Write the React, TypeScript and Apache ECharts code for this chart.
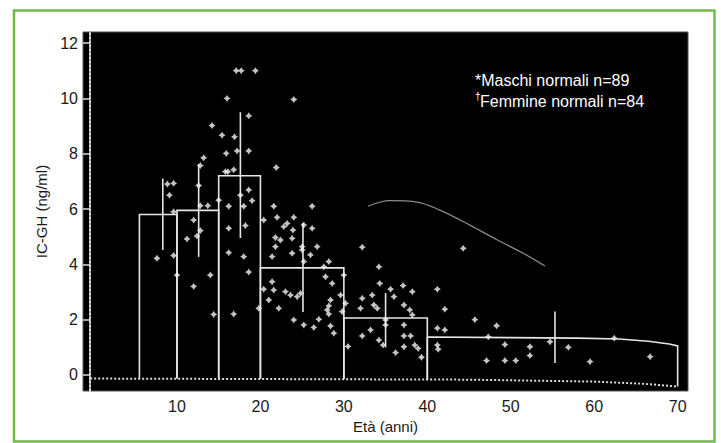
import React, { useEffect, useRef } from "react";
import * as echarts from "echarts";

// ---- data ----
const xTickValues = [10, 20, 30, 40, 50, 60, 70];
const yTickValues = [0, 2, 4, 6, 8, 10, 12];

// histogram bins (edges and mean heights)
const binEdges = [5.5, 10, 15, 20, 30, 40, 70];
const binHeights = [5.8, 5.95, 7.2, 3.87, 2.06, 1.37];
const binBase = [-0.12, -0.13, -0.13, -0.14, -0.15, -0.16, -0.42];
const lastBinTop = [
  [40, 1.37],
  [50, 1.35],
  [58, 1.33],
  [63, 1.3],
  [66.5, 1.22],
  [69, 1.12],
  [70, 1.05],
];

// error bars [x, low, high]
const errorBars = [
  [8.3, 4.52, 7.1],
  [12.6, 4.27, 7.63],
  [17.6, 4.95, 9.5],
  [25.1, 2.28, 5.49],
  [35.0, 1.0, 2.96],
  [55.3, 0.43, 2.29],
];

// faint reference curve
const curvePoints = [
  [32.9, 6.1],
  [35.5, 6.3],
  [38.8, 6.25],
  [41.5, 5.96],
  [45.1, 5.42],
  [48.4, 4.88],
  [51.5, 4.4],
  [54.1, 3.94],
];

// dotted baseline (x axis line of the scan)
const baselinePoints = [
  [-0.4, -0.13],
  [45, -0.17],
  [60, -0.24],
  [66, -0.32],
  [70, -0.42],
];

// individual subjects [age, IC-GH]
const subjects = [
  // 5-15
  [7.6, 4.22], [8.85, 6.9], [9.6, 6.93], [9.1, 6.5], [9.6, 5.9], [9.6, 4.32],
  [10.0, 3.61], [12.0, 3.2], [14.0, 3.61], [11.2, 4.92], [12.4, 5.02], [12.8, 5.22],
  [12.0, 5.6], [12.8, 6.12], [13.7, 6.12], [12.6, 6.85], [12.8, 7.57], [13.2, 7.85],
  [14.2, 9.02], [15.0, 6.32], [14.4, 2.19],
  // 15-20
  [15.4, 8.67], [15.9, 8.01], [16.0, 10.0], [16.9, 8.61], [17.2, 8.1], [18.6, 8.1],
  [18.6, 9.37], [17.1, 11.0], [17.7, 11.0], [19.4, 11.0], [15.8, 7.35], [16.1, 7.35],
  [16.8, 7.42], [16.2, 6.1], [17.6, 6.5], [18.6, 6.69], [19.0, 6.3], [18.0, 6.1],
  [18.2, 5.4], [16.2, 5.3], [16.2, 4.42], [18.0, 4.28], [18.6, 3.72], [19.8, 2.41],
  [16.8, 2.2],
  // 20-30
  [21.9, 7.5], [21.6, 6.1], [26.2, 6.1], [24.0, 9.96], [20.4, 5.6], [22.0, 5.7],
  [24.0, 5.7], [23.2, 5.48], [22.8, 5.36], [23.9, 5.24], [25.2, 5.42], [26.2, 5.3],
  [21.8, 4.97], [22.4, 4.88], [23.8, 4.94], [21.8, 4.64], [25.0, 4.64], [26.8, 4.64],
  [21.4, 4.28], [23.8, 4.4], [25.0, 4.52], [26.0, 4.34], [25.2, 4.1], [28.2, 4.1],
  [27.6, 3.91], [21.4, 3.37], [21.6, 3.07], [20.4, 3.1], [21.0, 2.71], [22.2, 2.41],
  [23.0, 3.01], [23.6, 2.89], [24.4, 2.83], [24.8, 2.95], [24.0, 1.99], [25.2, 1.81],
  [26.4, 1.72], [27.0, 2.01], [28.2, 2.2], [28.4, 1.77], [28.8, 1.51], [28.0, 2.35],
  [28.2, 2.5], [28.4, 2.71], [29.8, 2.29], [29.6, 2.89], [30.2, 2.59], [27.8, 3.55],
  [28.6, 3.31], [30.0, 3.61], [30.5, 1.03],
  // 30-40
  [32.2, 4.62], [34.2, 3.91], [34.3, 3.31], [35.6, 3.1], [37.1, 3.23], [38.2, 3.01],
  [33.4, 2.89], [36.0, 2.83], [32.2, 2.77], [33.6, 2.53], [34.0, 2.41], [37.2, 2.53],
  [37.9, 2.35], [38.2, 2.17], [32.0, 2.41], [35.0, 1.99], [33.2, 1.63], [35.0, 1.81],
  [37.2, 1.81], [37.2, 1.41], [38.0, 1.41], [34.2, 1.26], [34.7, 1.08], [37.2, 1.02],
  [38.5, 1.08], [38.9, 0.96], [36.2, 0.81], [32.2, 1.41], [39.3, 0.64],
  // 40+
  [44.3, 4.58], [41.2, 3.1], [42.1, 2.38], [45.7, 2.0], [41.2, 1.69], [42.1, 1.63],
  [41.2, 1.08], [41.3, 0.93], [48.3, 1.78], [47.3, 1.38], [49.3, 1.1], [52.3, 1.02],
  [52.3, 0.7], [47.1, 0.52], [49.3, 0.52], [50.6, 0.52], [54.7, 1.2], [56.9, 1.0],
  [59.5, 0.48], [62.4, 1.33], [66.7, 0.66],
];

const legendLines = ["*Maschi normali n=89", "Femmine normali n=84"];
const xName = "Età (anni)";
const yName = "IC-GH (ng/ml)";

const FONT = "'Liberation Sans', Arial, Helvetica, sans-serif";
const LINE = "#e6e6e6";

export default function App() {
  const ref = useRef<HTMLDivElement>(null);

  useEffect(() => {
    const chart = echarts.init(ref.current!, null, { renderer: "svg" });

    const binData = binHeights.map((h, i) => [binEdges[i], h, i]);

    const option: any = {
      animation: false,
      backgroundColor: "#ffffff",
      grid: {
        left: 83,
        top: 32,
        width: 605,
        height: 359,
        show: true,
        backgroundColor: "#000000",
        borderColor: "#555555",
        borderWidth: 1,
      },
      xAxis: {
        type: "value",
        min: -1.26,
        max: 71.24,
        splitLine: { show: false },
        axisLine: { show: false },
        axisTick: { show: false },
        axisLabel: {
          customValues: xTickValues,
          color: "#1a1a1a",
          fontSize: 16,
          fontFamily: FONT,
          margin: 7,
        },
        name: xName,
        nameLocation: "middle",
        nameGap: 26,
        nameTextStyle: { color: "#1a1a1a", fontSize: 15, fontFamily: FONT },
      },
      yAxis: {
        type: "value",
        min: -0.58,
        max: 12.4,
        offset: -7,
        splitLine: { show: false },
        axisLine: {
          show: true,
          onZero: false,
          lineStyle: { color: "#dddddd", width: 2, type: "dotted" },
        },
        axisTick: {
          show: true,
          customValues: yTickValues,
          length: 7,
          lineStyle: { color: "#dddddd", width: 1.5 },
        },
        axisLabel: {
          customValues: yTickValues,
          color: "#1a1a1a",
          fontSize: 16,
          fontFamily: FONT,
          margin: 12,
        },
        name: yName,
        nameLocation: "middle",
        nameGap: 39,
        nameTextStyle: { color: "#1a1a1a", fontSize: 15, fontFamily: FONT },
      },
      graphic: [
        {
          type: "rect",
          z: 100,
          shape: { x: 14, y: 10.5, width: 700.5, height: 431 },
          style: { fill: null, stroke: "#74b84c", lineWidth: 2.5 },
        },
        {
          type: "text",
          z: 100,
          x: 475,
          y: 80,
          style: {
            text: legendLines[0],
            fill: "#ffffff",
            fontSize: 16,
            fontFamily: FONT,
            verticalAlign: "middle",
            align: "left",
          },
        },
        {
          type: "text",
          z: 100,
          x: 475,
          y: 96,
          style: {
            text: "†",
            fill: "#ffffff",
            fontSize: 10,
            fontFamily: FONT,
            verticalAlign: "middle",
            align: "left",
          },
        },
        {
          type: "text",
          z: 100,
          x: 480,
          y: 101,
          style: {
            text: legendLines[1],
            fill: "#ffffff",
            fontSize: 16,
            fontFamily: FONT,
            verticalAlign: "middle",
            align: "left",
          },
        },
      ],
      series: [
        {
          name: "baseline",
          type: "line",
          data: baselinePoints,
          symbol: "none",
          silent: true,
          lineStyle: { color: "#dddddd", width: 2, type: "dotted" },
          z: 2,
        },
        {
          name: "curve",
          type: "line",
          data: curvePoints,
          smooth: 0.35,
          symbol: "none",
          silent: true,
          lineStyle: { color: "#8a8a8a", width: 1.3 },
          z: 2,
        },
        {
          name: "bins",
          type: "custom",
          data: binData,
          encode: { x: 0, y: 1 },
          z: 3,
          renderItem: (params: any, api: any) => {
            const i = params.dataIndex;
            const x0 = binEdges[i];
            const x1 = binEdges[i + 1];
            const h = binHeights[i];
            const tops = i === binHeights.length - 1 ? lastBinTop : [[x0, h], [x1, h]];
            const pts = [[x0, binBase[i]], ...tops, [x1, binBase[i + 1]]].map((p) =>
              api.coord(p)
            );
            return {
              type: "polyline",
              shape: { points: pts },
              style: { stroke: LINE, lineWidth: 1.6, fill: null },
            };
          },
        },
        {
          name: "errors",
          type: "custom",
          data: errorBars,
          encode: { x: 0, y: [1, 2] },
          z: 3,
          renderItem: (params: any, api: any) => {
            const x = api.value(0);
            const lo = api.coord([x, api.value(1)]);
            const hi = api.coord([x, api.value(2)]);
            return {
              type: "line",
              shape: { x1: lo[0], y1: lo[1], x2: hi[0], y2: hi[1] },
              style: { stroke: LINE, lineWidth: 1.6 },
            };
          },
        },
        {
          name: "subjects",
          type: "scatter",
          data: subjects,
          symbol:
            "path://M0,-10 L4,-4 L10,0 L4,4 L0,10 L-4,4 L-10,0 L-4,-4 Z",
          symbolSize: 7,
          itemStyle: { color: "#f4f4f4" },
          z: 4,
        },
      ],
    };

    chart.setOption(option);
    return () => chart.dispose();
  }, []);

  return (
    <div
      ref={ref}
      style={{ position: "fixed", left: 0, top: 0, width: 721, height: 443, background: "#fff" }}
    />
  );
}
